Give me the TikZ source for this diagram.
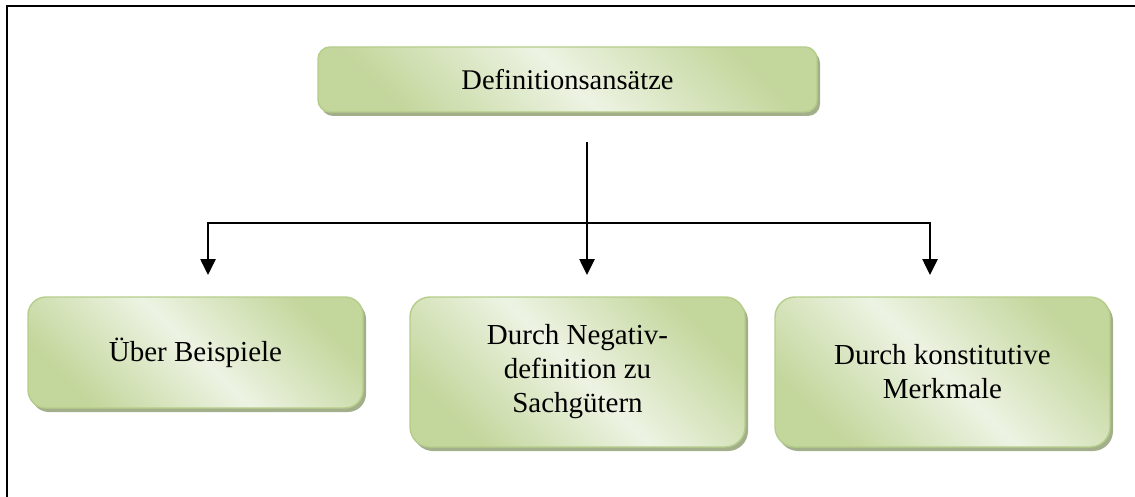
\documentclass[tikz,border=0pt]{standalone}
\usepackage{fontspec}
\setmainfont{Liberation Serif}
\usetikzlibrary{shadows,arrows.meta}
\definecolor{boxdark}{HTML}{C3D69B}
\definecolor{boxlight}{HTML}{EDF3E3}
\definecolor{boxedge}{HTML}{B5CD8A}
\definecolor{boxshade}{HTML}{A3AF8A}
\tikzset{
  card/.style={draw=boxedge, line width=1.4pt, rounded corners=#1,
    top color=boxdark, bottom color=boxdark, middle color=boxlight, shading angle=-45,
    drop shadow={shadow xshift=3pt, shadow yshift=-4pt, fill=boxshade, opacity=1},
    align=center, font=\fontsize{29}{34}\selectfont, inner sep=0pt},
  conn/.style={line width=2.6pt, black},
  arr/.style={conn, -{Triangle[length=16pt,width=15pt]}},
}
\begin{document}
\begin{tikzpicture}[x=1pt,y=-1pt]
\useasboundingbox (0,0) rectangle (1135,497);
% outer frame (top and left edges)
\draw[line width=2.2pt, line join=miter] (7,497) -- (7,6) -- (1135,6);

% boxes
\node[card=12pt, minimum width=499pt, minimum height=65pt, font=\fontsize{28.5}{34}\selectfont] (top) at (567.5,79.5) {Definitionsansätze};
\node[card=18pt, minimum width=335pt, minimum height=111pt] (b1) at (195.5,352.5) {Über Beispiele};
\node[card=20pt, minimum width=335pt, minimum height=150pt] (b2) at (577.5,372) {Durch Negativ-\\definition zu\\Sachgütern};
\node[card=20pt, minimum width=335pt, minimum height=150pt] (b3) at (942.5,372) {Durch konstitutive\\Merkmale};

% connectors
\coordinate (hub) at (587,142);
\coordinate (fork) at (587,223);
\coordinate (t1) at (208,275);
\coordinate (t2) at (587,275);
\coordinate (t3) at (930,275);
\draw[conn] (hub) -- (fork);
\draw[arr] (fork) -| (t1);
\draw[arr] (fork) -- (t2);
\draw[arr] (fork) -| (t3);
\end{tikzpicture}
\end{document}
